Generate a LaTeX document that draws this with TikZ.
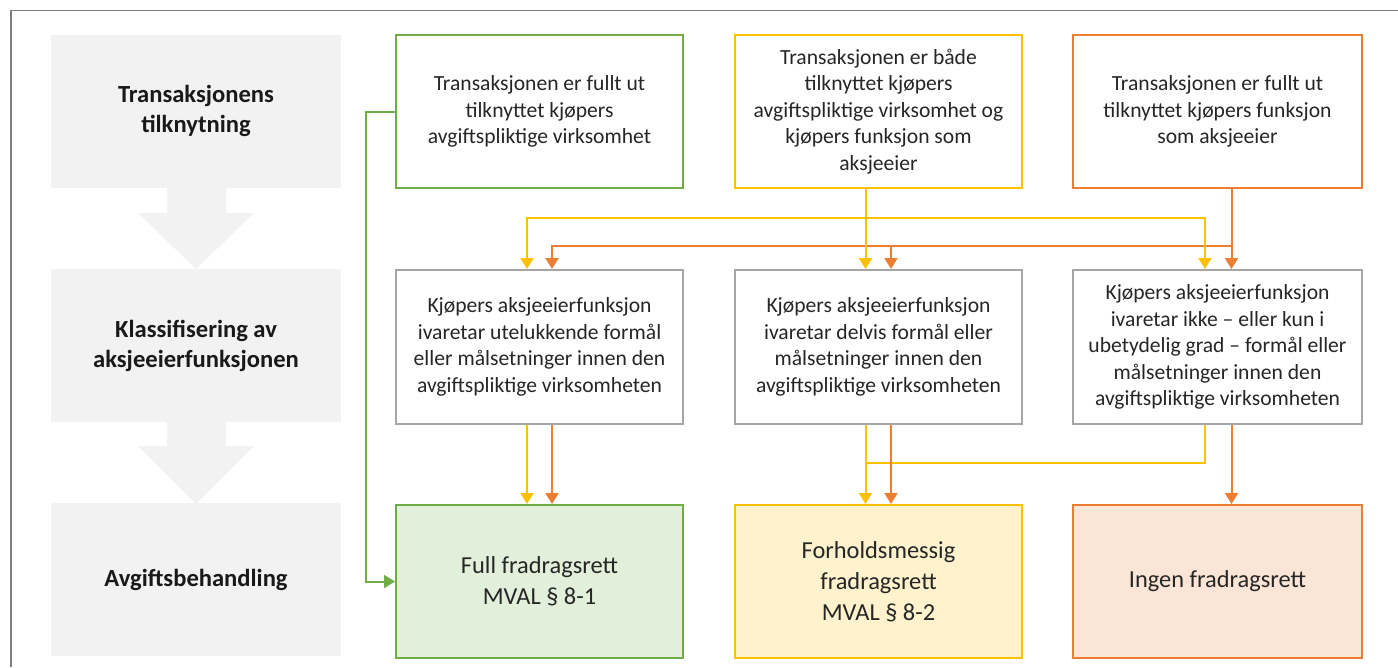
\documentclass[tikz,border=0pt]{standalone}
\usepackage{fontspec}
\setmainfont{Carlito}
\usetikzlibrary{arrows.meta,calc}
\definecolor{gbord}{HTML}{70AD47}
\definecolor{gfill}{HTML}{E2EFDA}
\definecolor{ybord}{HTML}{FFC000}
\definecolor{yfill}{HTML}{FFF2CC}
\definecolor{obord}{HTML}{ED7D31}
\definecolor{ofill}{HTML}{FBE5D6}
\definecolor{cbord}{HTML}{A6A6A6}
\definecolor{lgray}{HTML}{F2F2F2}
\definecolor{txt}{HTML}{262626}
\definecolor{framec}{HTML}{7F7F7F}
\begin{document}
\begin{tikzpicture}[x=1pt,y=-1pt,
  box/.style={draw, line width=2pt, minimum width=287pt, minimum height=153pt,
    inner sep=0pt, align=center, text=txt, font=\fontsize{21.6}{26.5}\selectfont},
  resbox/.style={box, font=\fontsize{24.4}{31}\selectfont},
  lab/.style={fill=lgray, minimum width=290pt, minimum height=153pt, inner sep=0pt,
    align=center, text=black!90, font=\bfseries\fontsize{24.6}{30}\selectfont},
  ya/.style={draw=ybord, line width=2pt, -{Triangle[width=13pt,length=11pt]}},
  oa/.style={draw=obord, line width=2pt, -{Triangle[width=13pt,length=11pt]}},
  ga/.style={draw=gbord, line width=2pt, -{Triangle[width=13pt,length=11pt]}},
  yl/.style={draw=ybord, line width=2pt},
  garrow/.style={fill=lgray, draw=none}
]
\useasboundingbox (0,0) rectangle (1398,667);
\fill[white] (0,0) rectangle (1398,667);
\draw[framec, line width=1.5pt] (1398,10.5) -- (11,10.5) -- (11,667);

% left column
\node[lab] (l1) at (196,111) {Transaksjonens\\tilknytning};
\node[lab] (l2) at (196,345.5) {Klassifisering av\\aksjeeierfunksjonen};
\node[lab] (l3) at (196,579.5) {Avgiftsbehandling};
\fill[garrow] (167,186) -- (167,213) -- (138,213) -- (196,269) -- (254,213) -- (226,213) -- (226,186) -- cycle;
\fill[garrow] (167,421) -- (167,446) -- (138,446) -- (196,504) -- (254,446) -- (226,446) -- (226,421) -- cycle;

% row 1
\node[box, draw=gbord] (g1) at (539.5,111.5) {Transaksjonen er fullt ut\\tilknyttet kjøpers\\avgiftspliktige virksomhet};
\node[box, draw=ybord] (y1) at (878.5,111.5) {Transaksjonen er både\\tilknyttet kjøpers\\avgiftspliktige virksomhet og\\kjøpers funksjon som\\aksjeeier};
\node[box, draw=obord, minimum width=289pt] (o1) at (1217.5,111.5) {Transaksjonen er fullt ut\\tilknyttet kjøpers funksjon\\som aksjeeier};

% row 2
\node[box, draw=cbord, minimum height=154pt] (c1) at (539.5,347) {Kjøpers aksjeeierfunksjon\\ivaretar utelukkende formål\\eller målsetninger innen den\\avgiftspliktige virksomheten};
\node[box, draw=cbord, minimum height=154pt] (c2) at (878.5,347) {Kjøpers aksjeeierfunksjon\\ivaretar delvis formål eller\\målsetninger innen den\\avgiftspliktige virksomheten};
\node[box, draw=cbord, minimum height=154pt, minimum width=289pt] (c3) at (1217.5,347) {Kjøpers aksjeeierfunksjon\\ivaretar ikke – eller kun i\\ubetydelig grad – formål eller\\målsetninger innen den\\avgiftspliktige virksomheten};

% row 3
\node[resbox, draw=gbord, fill=gfill] (r1) at (539.5,581.5) {Full fradragsrett\\MVAL § 8-1};
\node[resbox, draw=ybord, fill=yfill] (r2) at (878.5,581.5) {Forholdsmessig\\fradragsrett\\MVAL § 8-2};
\node[resbox, draw=obord, fill=ofill, minimum width=289pt] (r3) at (1217.5,581.5) {Ingen fradragsrett};

% connectors row1 -> row2
\coordinate (yj) at (865.5,218);
\coordinate (oj) at (1231.5,246);
\draw[oa] (oj) -| ([xshift=12.5pt]c1.north);
\draw[oa] (oj) -| ([xshift=12.5pt]c2.north);
\draw[oa] ([xshift=14pt]o1.south) -- ([xshift=14pt]c3.north);
\draw[ya] (yj) -| ([xshift=-12.5pt]c1.north);
\draw[ya] (yj) -| ([xshift=-12.5pt]c3.north);
\draw[ya] ([xshift=-13pt]y1.south) -- ([xshift=-13pt]c2.north);

% connectors row2 -> row3
\coordinate (yk) at (865.5,463);
\draw[yl] ([xshift=-12.5pt]c3.south) |- (yk);
\draw[ya] ([xshift=-12.5pt]c1.south) -- ([xshift=-12.5pt]r1.north);
\draw[oa] ([xshift=12.5pt]c1.south) -- ([xshift=12.5pt]r1.north);
\draw[ya] ([xshift=-13pt]c2.south) -- ([xshift=-13pt]r2.north);
\draw[oa] ([xshift=12.5pt]c2.south) -- ([xshift=12.5pt]r2.north);
\draw[oa] ([xshift=14pt]c3.south) -- ([xshift=14pt]r3.north);

% green bypass
\draw[ga] (g1.west) -- ++(-29,0) |- (r1.west);
\end{tikzpicture}
\end{document}
